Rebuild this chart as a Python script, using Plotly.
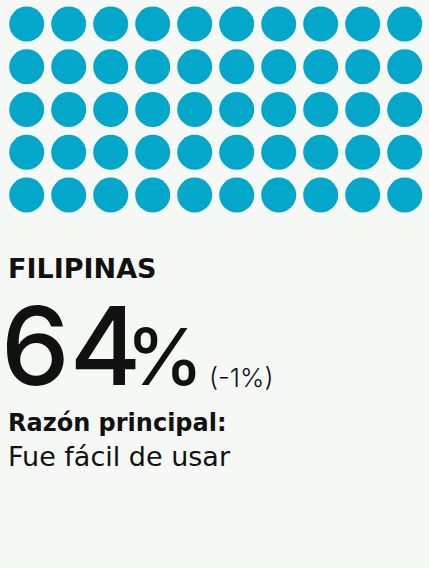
import plotly.graph_objects as go

# ---- data ----
country = "FILIPINAS"
share_pct = 64
change_pct = -1
reason_label = "Razón principal:"
reason_text = "Fue fácil de usar"
n_rows = 5
n_cols = 10

BG = "#F6F8F5"
DOT = "#02A7C9"
INK = "#111111"

W, H = 429, 568

cols = [c for r in range(n_rows) for c in range(n_cols)]
rows = [r for r in range(n_rows) for c in range(n_cols)]

fig = go.Figure()
fig.add_trace(go.Scatter(
    x=cols, y=rows, mode="markers",
    marker=dict(size=35, color=DOT, line=dict(width=0)),
    hoverinfo="skip", showlegend=False,
))

# axis ranges so that column i sits at ~26.7+42*i px, row j at ~24+42.75*j px
x0, dx = 26.7, 42.0
y0, dy = 24.0, 42.75
fig.update_xaxes(range=[-x0 / dx, (W - x0) / dx], visible=False, fixedrange=True)
fig.update_yaxes(range=[(H - y0) / dy, -y0 / dy], visible=False, fixedrange=True)

def px(p):
    return p / W

def py(p):
    return 1 - p / H

def note(text, x, y, family, size, weight="normal"):
    return dict(text=text, x=px(x), y=py(y), xref="paper", yref="paper",
                xanchor="left", yanchor="top", showarrow=False,
                font=dict(family=family, size=size, color=INK, weight=weight))

sign = "-" if change_pct < 0 else "+"
ann = [
    note(f"<b>{country}</b>", 6, 251, "DejaVu Sans", 27),
    note(f"{share_pct}", -1, 277, "Inter", 109, 500),
    note("%", 124, 307, "Inter", 78, 500),
    note(f"({sign}{abs(change_pct)}%)", 207, 360, "Inter", 26, 300),
    note(f"<b>{reason_label}</b>", 6, 407, "DejaVu Sans", 24),
    note(reason_text, 6, 439, "DejaVu Sans", 27),
]

fig.update_layout(
    width=W, height=H, margin=dict(l=0, r=0, t=0, b=0),
    paper_bgcolor=BG, plot_bgcolor=BG,
    annotations=ann,
)
fig.write_html("out.html", config={"displayModeBar": False},
               post_script="document.body.style.margin='0px';document.body.style.background='%s';" % BG)
